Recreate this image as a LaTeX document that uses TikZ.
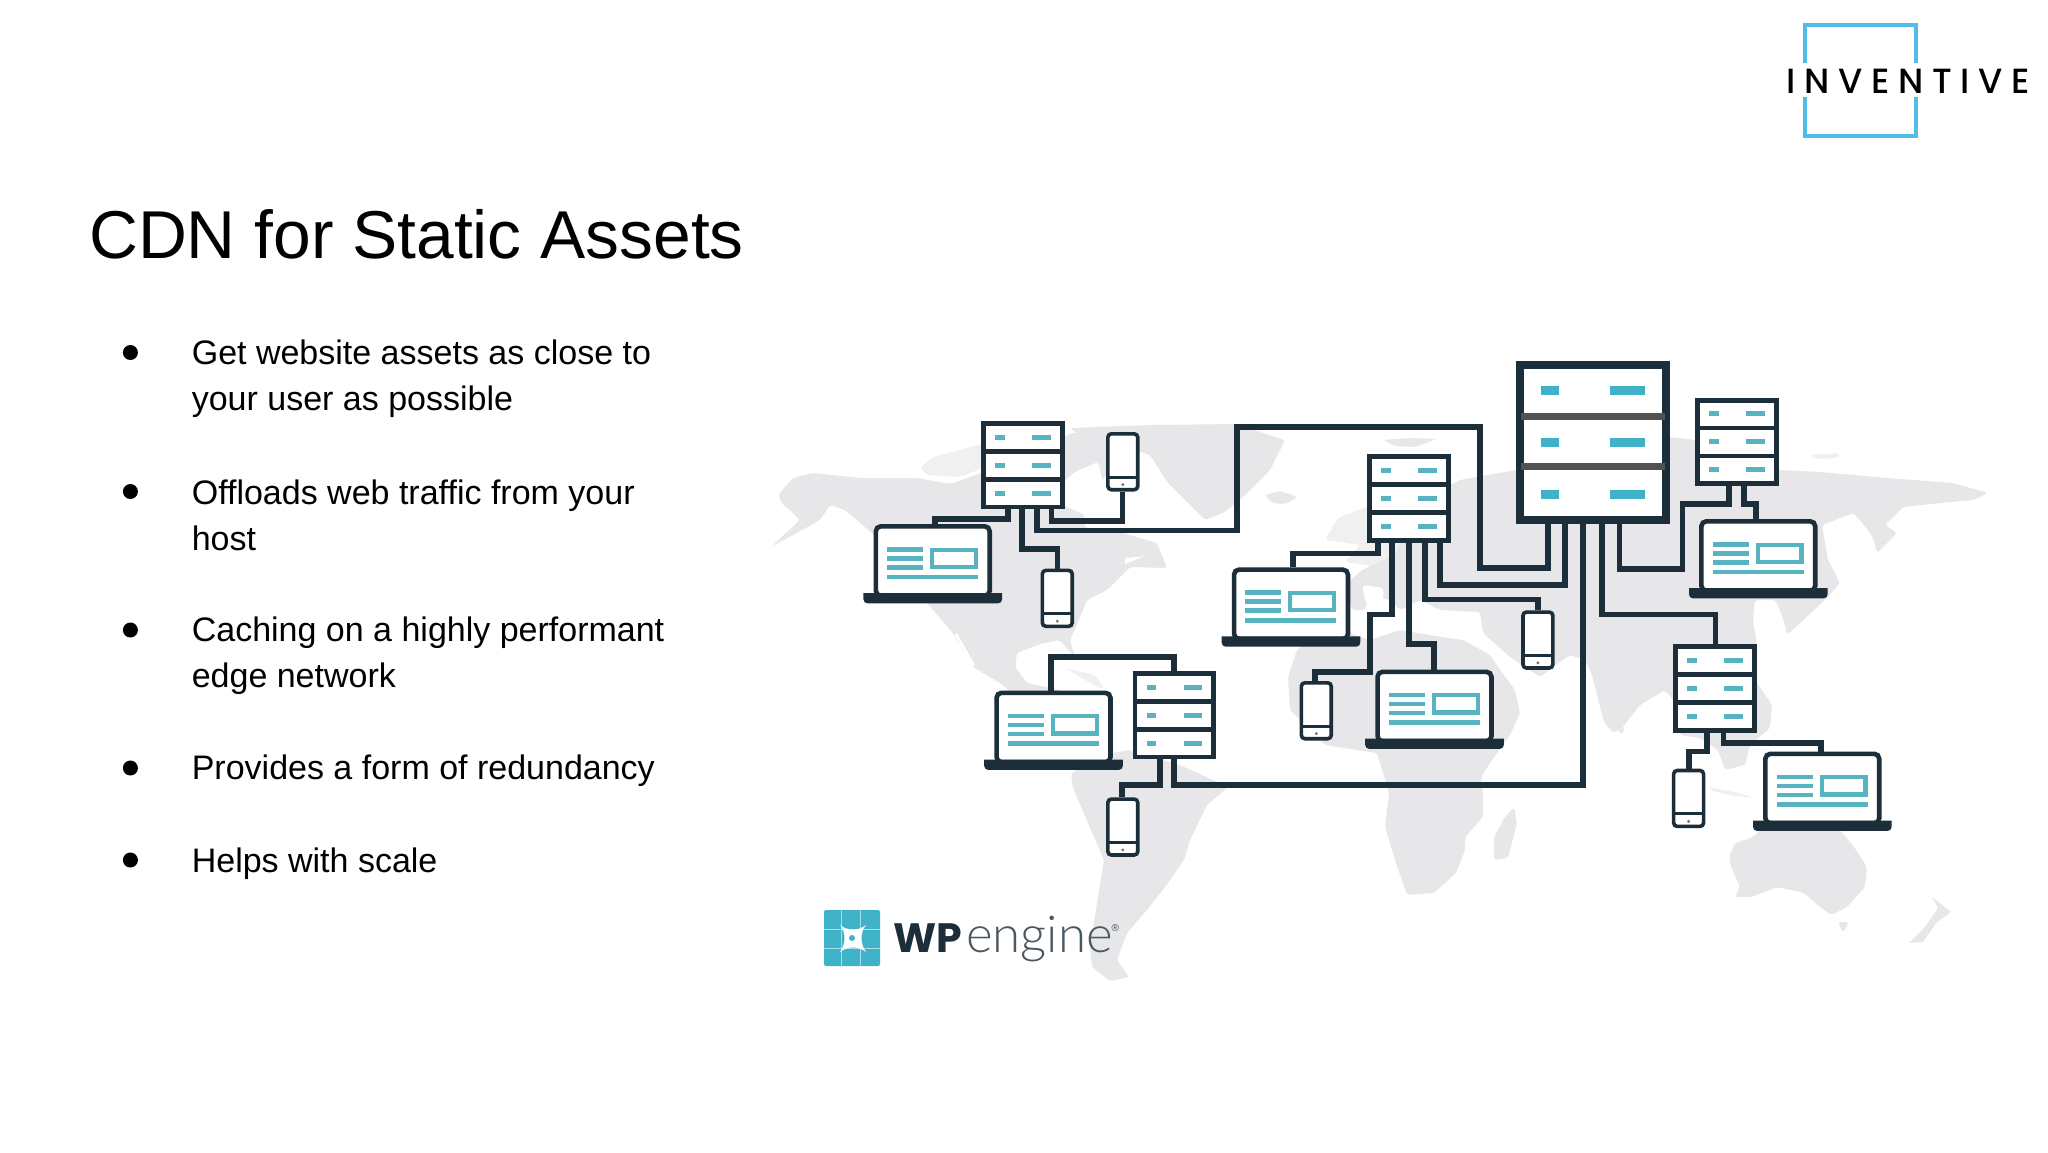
\documentclass[tikz,border=0pt]{standalone}
\usepackage{fontspec}
\setmainfont{Liberation Sans}
\newfontfamily\invf[LetterSpace=25,UprightFont=* Medium]{Poppins}
\newfontfamily\wpf{Poppins}
\newfontfamily\engf[UprightFont=* Light]{Lato}
\definecolor{ink}{HTML}{1C2E39}
\definecolor{mapgray}{HTML}{E7E7E9}
\definecolor{maplight}{HTML}{F0F0F1}
\definecolor{tealA}{HTML}{56B3BF}
\definecolor{tealB}{HTML}{40B2C8}
\definecolor{skyb}{HTML}{4FBDE9}
\tikzset{
  landm/.style={fill=mapgray,draw=none,rounded corners=3pt},
  landl/.style={fill=maplight,draw=none,rounded corners=3pt},
  wire/.style={draw=ink,line width=5.8pt,line join=miter},
  srvbox/.style={draw=ink,fill=white,line width=4.8pt,minimum width=78.7pt,minimum height=83.6pt,inner sep=0pt},
  bigbox/.style={draw=ink,fill=white,line width=8pt,minimum width=146pt,minimum height=154.8pt,inner sep=0pt},
  lapbox/.style={draw=ink,fill=white,line width=4.6pt,minimum width=113.9pt,minimum height=69.4pt,inner sep=0pt,rounded corners=5pt},
  phnbox/.style={draw=ink,fill=white,line width=3.6pt,minimum width=29.9pt,minimum height=55.9pt,inner sep=0pt,rounded corners=3.5pt},
  body/.style={anchor=base west,inner sep=0pt,align=left,font=\fontsize{34}{46.6}\selectfont,text=black},
  bul/.style={circle,fill=black,inner sep=0pt,minimum size=15pt},
}
\newcommand{\srv}[3]{\begin{scope}[shift={(#2,#3)}]
  \node[srvbox] (#1) at (0,0) {};
  \draw[ink,line width=4.6pt] (-40,-14) -- (40,-14) (-40,14) -- (40,14);
  \foreach \yy in {-28,0,28}{
    \fill[tealA] (-27.75,\yy-2.5) rectangle (-18.25,\yy+2.5);
    \fill[tealA] (9.25,\yy-2.5) rectangle (27.85,\yy+2.5);
  }
\end{scope}}
\newcommand{\lap}[3]{\begin{scope}[shift={(#2,#3)}]
  \node[lapbox] (#1) at (0,37) {};
  \foreach \yy in {25.4,34.3,43.3}{\fill[tealA] (-45.75,\yy-2.3) rectangle (-9.75,\yy+2.3);}
  \fill[tealA] (-45.75,50.6) rectangle (45.25,55.4);
  \draw[tealA,line width=4.2pt] (-0.7,25.6) rectangle (43.2,43);
  \fill[ink] (-69.3,69) -- (69.3,69) [rounded corners=4pt] -- (69.3,79.4) -- (-69.3,79.4) [sharp corners] -- cycle;
\end{scope}}
\newcommand{\phn}[3]{\begin{scope}[shift={(#2,#3)}]
  \node[phnbox] (#1) at (0,29.75) {};
  \draw[ink,line width=3pt] (-15,45) -- (15,45);
  \fill[black!55] (0,52.6) circle (1.6);
\end{scope}}
\begin{document}
\begin{tikzpicture}[x=1pt,y=-1pt]
\useasboundingbox (0,0) rectangle (2048,1152);
\fill[white] (0,0) rectangle (2048,1152);
% ---------- world map ----------
% North and Central America
\fill[landm] (778,495) -- (793,478) -- (813,473) -- (860,478) -- (917,478) -- (950,484) -- (990,470) -- (1075,432) -- (1105,440) -- (1110,470) -- (1095,490) -- (1082,505) -- (1085,528) -- (1120,532) -- (1157,543) -- (1167,568) -- (1130,567) -- (1107,590) -- (1087,600) -- (1076,627) -- (1070,640) -- (1075,657) -- (1068,650) -- (1060,640) -- (1040,644) -- (1017,653) -- (1015,667) -- (1027,683) -- (1060,690) -- (1085,710) -- (1110,745) -- (1090,770) -- (1060,735) -- (1000,683) -- (973,667) -- (953,633) -- (927,603) -- (880,540) -- (845,510) -- (830,505) -- (820,520) -- (773,546) -- (775,543) -- (800,520) -- (790,510) -- (783,505) -- cycle;
\fill[landl] (920,468) -- (933,457) -- (960,450) -- (985,443) -- (985,467) -- (960,477) -- (927,475) -- cycle;
\fill[white,rounded corners=3pt] (1075,472) -- (1098,462) -- (1105,490) -- (1085,515) -- (1065,506) -- (1060,485) -- cycle;
\fill[white] (957,633) -- (975,665) -- (972,666) -- (955,635) -- cycle;
\fill[white] (1125,558) -- (1145,556) -- (1125,564) -- cycle;
\fill[landl] (1065,668) -- (1095,675) -- (1105,690) -- (1085,680) -- cycle;
% Greenland
\fill[landm] (1070,428) -- (1150,425) -- (1235,424) -- (1285,440) -- (1270,470) -- (1245,495) -- (1225,512) -- (1205,520) -- (1190,505) -- (1168,483) -- (1150,455) -- (1120,445) -- (1085,440) -- cycle;
% South America
\fill[landm] (1071,774) -- (1100,755) -- (1130,750) -- (1180,765) -- (1228,787) -- (1207,805) -- (1190,840) -- (1184,860) -- (1168,883) -- (1147,910) -- (1127,933) -- (1117,960) -- (1129,977) -- (1110,981) -- (1092,967) -- (1090,947) -- (1096,910) -- (1104,860) -- (1073,788) -- cycle;
% Iceland, Svalbard
\fill[landm] (1265,495) -- (1280,491) -- (1298,497) -- (1285,504) -- (1272,503) -- cycle;
\fill[landm] (1383,440) -- (1410,438) -- (1437,439) -- (1415,447) -- (1395,446) -- cycle;
\fill[landl] (1810,455) -- (1840,453) -- (1838,458) -- (1815,459) -- cycle;
% Scandinavia, pale
\fill[landl] (1345,562) -- (1360,545) -- (1325,540) -- (1338,518) -- (1370,505) -- (1400,500) -- (1420,520) -- (1400,570) -- cycle;
% Eurasia
\fill[landm] (1352,610) -- (1345,585) -- (1362,570) -- (1395,555) -- (1420,500) -- (1460,480) -- (1516,470) -- (1670,437) -- (1695,440) -- (1780,470) -- (1820,472) -- (1887,478) -- (1953,483) -- (1988,493) -- (1973,500) -- (1940,503) -- (1903,507) -- (1885,525) -- (1897,533) -- (1877,553) -- (1873,537) -- (1860,520) -- (1853,513) -- (1822,525) -- (1828,560) -- (1840,583) -- (1825,600) -- (1787,635) -- (1785,625) -- (1780,610) -- (1775,600) -- (1755,600) -- (1753,620) -- (1757,645) -- (1755,680) -- (1772,705) -- (1770,728) -- (1750,745) -- (1745,765) -- (1725,770) -- (1718,750) -- (1700,738) -- (1680,735) -- (1673,700) -- (1665,690) -- (1640,705) -- (1622,728) -- (1613,733) -- (1604,722) -- (1592,675) -- (1585,660) -- (1570,655) -- (1553,667) -- (1540,677) -- (1510,657) -- (1483,633) -- (1480,612) -- (1440,610) -- (1420,600) -- (1400,610) -- (1390,600) -- (1370,595) -- (1365,610) -- cycle;
% Pale Mediterranean patch
\fill[white,rounded corners=4pt] (1362,585) -- (1384,588) -- (1382,607) -- (1366,604) -- cycle;
% Sri Lanka, Sumatra
\fill[landm] (1617,723) -- (1623,725) -- (1624,733) -- (1619,733) -- cycle;
\fill[landl] (1708,787) -- (1735,792) -- (1755,798) -- (1735,796) -- (1712,791) -- cycle;
% Africa
\fill[landm] (1297,650) -- (1288,677) -- (1290,710) -- (1325,745) -- (1377,753) -- (1389,793) -- (1385,827) -- (1396,863) -- (1407,895) -- (1434,893) -- (1456,873) -- (1465,850) -- (1465,837) -- (1483,817) -- (1483,797) -- (1481,777) -- (1492,760) -- (1510,735) -- (1520,713) -- (1515,690) -- (1500,670) -- (1490,655) -- (1463,640) -- (1435,636) -- (1400,630) -- (1370,640) -- (1340,630) -- (1310,640) -- cycle;
% Madagascar, Australia, Tasmania, New Zealand
\fill[landm] (1514,807) -- (1517,823) -- (1508,858) -- (1494,860) -- (1494,837) -- (1505,817) -- cycle;
\fill[landm] (1729,857) -- (1735,843) -- (1751,838) -- (1764,828) -- (1840,830) -- (1854,847) -- (1867,867) -- (1865,887) -- (1847,907) -- (1831,915) -- (1820,907) -- (1804,893) -- (1778,887) -- (1751,897) -- (1735,897) -- (1740,887) -- (1731,867) -- cycle;
\fill[landm] (1838,922) -- (1849,922) -- (1843,933) -- cycle;
\fill[landm,rounded corners=1pt] (1932,897) -- (1951,912) -- (1936,923) -- (1923,942) -- (1909,943) -- (1925,927) -- (1938,908) -- cycle;
% ---------- devices ----------
\srv{sa}{1022.75}{465.2}
\srv{sb}{1409}{498.6}
\srv{sc}{1174.4}{715.2}
\srv{sd}{1736.8}{441.9}
\srv{se}{1715}{688.3}
\begin{scope}[shift={(1593,442.1)}]
  \node[bigbox] (big) at (0,0) {};
  \draw[black!68,line width=7pt] (-72,-26) -- (72,-26) (-72,24.6) -- (72,24.6);
  \foreach \yy in {-51.5,0.2,52.2}{
    \fill[tealB] (-52.5,\yy-4.6) rectangle (-34.5,\yy+4.6);
    \fill[tealB] (16.8,\yy-4.6) rectangle (51.6,\yy+4.6);
  }
\end{scope}
\lap{la}{932.75}{524}
\lap{lb}{1291}{567.3}
\lap{lc}{1053.5}{690.5}
\lap{ld}{1434.5}{669.5}
\lap{le}{1758.3}{519}
\lap{lf}{1822.3}{751.5}
\phn{pa}{1122.8}{432}
\phn{pb}{1057.3}{568.6}
\phn{pc}{1316.3}{681}
\phn{pd}{1122.8}{797.3}
\phn{pe}{1537.9}{610.3}
\phn{pf}{1688.6}{768.7}
% ---------- connectors ----------
\draw[wire] ([xshift=-15pt]sa.south) -- ++(0,9.4) -| ([xshift=2pt]la.north);
\draw[wire] ([xshift=-1.15pt]sa.south) |- (1057.5,549) -- ([xshift=.2pt]pb.north);
\draw[wire] ([xshift=14.25pt]sa.south) |- (1237,530.4) |- (1480,426.8) |- (1547.8,568) -- ([xshift=-45.2pt]big.south);
\draw[wire] ([xshift=28.65pt]sa.south) |- (1122.5,520.8) -- ([xshift=-.3pt]pa.south);
\draw[wire] ([xshift=-31pt]sb.south) |- (1293,553.5) -- ([xshift=2pt]lb.north);
\draw[wire] ([xshift=-16.8pt]sb.south) |- (1370.2,614.5) |- (1314.7,672.3) -- ([xshift=-1.6pt]pc.north);
\draw[wire] (sb.south) |- (1434,644) -- ([xshift=-.5pt]ld.north);
\draw[wire] ([xshift=16pt]sb.south) |- (1537.9,599.5) -- (pe.north);
\draw[wire] ([xshift=31pt]sb.south) |- (1564.6,585) -- ([xshift=-28.4pt]big.south);
\draw[wire] ([xshift=-10pt]big.south) |- (1173.9,785.2) -- ([xshift=-.5pt]sc.south);
\draw[wire] ([xshift=9pt]big.south) |- (1715.4,614.5) -- ([xshift=.4pt]se.north);
\draw[wire] ([xshift=26.4pt]big.south) |- (1682.5,568.6) |- (1729.2,503.6) -- ([xshift=-7.6pt]sd.south);
\draw[wire] ([xshift=6.9pt]sd.south) |- (1756,503.6) -- ([xshift=-2.3pt]le.north);
\draw[wire] ([xshift=-.5pt]sc.north) |- (1050.6,657) -- ([xshift=-2.9pt]lc.north);
\draw[wire] ([xshift=-14.8pt]sc.south) |- (1122,785) -- ([xshift=-.8pt]pd.north);
\draw[wire] ([xshift=-8.4pt]se.south) |- (1688.6,751.5) -- (pf.north);
\draw[wire] ([xshift=8.5pt]se.south) |- (1821,743) -- ([xshift=-1.3pt]lf.north);
% ---------- text ----------
\node[anchor=base west,inner sep=0pt,font=\fontsize{67.7}{80}\selectfont,text=black] (title) at (89,258) {CDN for Static Assets};
\node[bul] (b1) at (130.4,352.5) {};
\node[body] (t1) at (191.6,410.6) {Get website assets as close to\\your user as possible};
\node[bul] (b2) at (130.4,491.5) {};
\node[body] (t2) at (191.6,550.6) {Offloads web traffic from your\\host};
\node[bul] (b3) at (130.4,630) {};
\node[body] (t3) at (191.6,687.6) {Caching on a highly performant\\edge network};
\node[bul] (b4) at (130.4,768) {};
\node[body] (t4) at (191.6,779.6) {Provides a form of redundancy};
\node[bul] (b5) at (130.4,860) {};
\node[body] (t5) at (191.6,872.3) {Helps with scale};
% ---------- INVENTIVE logo ----------
\draw[skyb,line width=4.2pt] (1805,63) -- (1805,25) -- (1916,25) -- (1916,63);
\draw[skyb,line width=4.2pt] (1805,97) -- (1805,136) -- (1916,136) -- (1916,97);
\node[anchor=base west,inner sep=0pt,font=\invf\fontsize{35}{40}\selectfont,text=black] (inv) at (1786,93) {INVENTIVE};
% ---------- WP engine logo ----------
\node[fill=tealB,minimum width=56pt,minimum height=56pt,inner sep=0pt,rounded corners=2pt] (wp) at (852,938) {};
\draw[white,opacity=.55,line width=.9pt] (841,910) -- (841,966) (860,910) -- (860,966) (824,929) -- (880,929) (824,948) -- (880,948);
\fill[white] (840,925) .. controls (847,931) and (859,931) .. (866,925) .. controls (860,932) and (860,944) .. (866,952) .. controls (859,946) and (847,946) .. (840,952) .. controls (846,944) and (846,932) .. (840,925) -- cycle;
\fill[tealB] (852,938) circle (3);
\node[anchor=base west,inner sep=0pt,font=\wpf\bfseries\fontsize{41}{48}\selectfont,text=ink] (wpt) at (893,952) {WP};
\node[anchor=base west,inner sep=0pt,font=\engf\fontsize{51}{60}\selectfont,text=ink!80] (eng) at (966,952) {engine};
\node[anchor=base west,inner sep=0pt,font=\fontsize{10}{12}\selectfont,text=ink!85] (reg) at (1111.5,931) {®};
\end{tikzpicture}
\end{document}
